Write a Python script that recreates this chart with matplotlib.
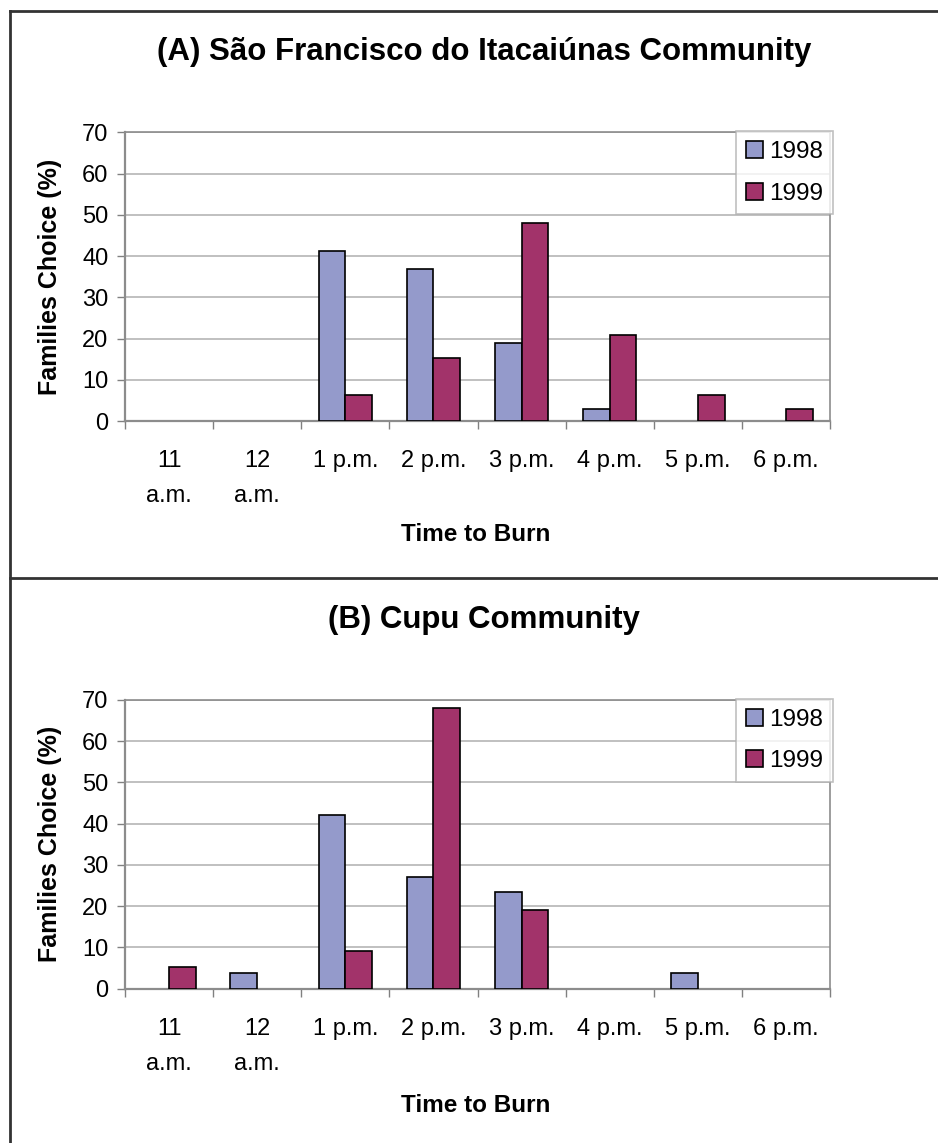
import matplotlib.pyplot as plt
from matplotlib.lines import Line2D
import numpy as np

plt.rcParams['font.family'] = ['Liberation Sans', 'DejaVu Sans']

times = ['11\na.m.', '12\na.m.', '1 p.m.', '2 p.m.', '3 p.m.', '4 p.m.', '5 p.m.', '6 p.m.']
years = ['1998', '1999']

# Families choosing each burning time (%)
sao_1998 = [0, 0, 41.2, 36.9, 19.0, 2.8, 0, 0]
sao_1999 = [0, 0, 6.3, 15.3, 47.9, 20.9, 6.2, 3.0]
cupu_1998 = [0, 3.9, 42.1, 27.0, 23.4, 0, 3.9, 0]
cupu_1999 = [5.3, 0, 9.1, 68.1, 19.1, 0, 0, 0]

titles = ['(A) São Francisco do Itacaiúnas Community', '(B) Cupu Community']
colors = ['#949ACB', '#A2336A']

W, H = 938, 1143
fig = plt.figure(figsize=(W / 100, H / 100), dpi=100)


def fx(px):
    return px / W


def fy(px):
    return 1 - px / H


def panel(rect, s98, s99, title, title_y, xlabel_y):
    ax = fig.add_axes(rect)
    x = np.arange(len(times))
    w = 0.303
    for off, vals, c, lab in [(-w / 2, s98, colors[0], years[0]), (w / 2, s99, colors[1], years[1])]:
        # empty categories get no outline
        lws = [1.2 if v > 0 else 0 for v in vals]
        ax.bar(x + off, vals, w, color=c, edgecolor='black', linewidth=lws, label=lab, zorder=3)
    ax.set_xlim(-0.5, len(times) - 0.5)
    ax.set_ylim(0, 70)
    ax.set_yticks(range(0, 71, 10))
    ax.yaxis.grid(True, color='#B5B5B5', linewidth=1.2, zorder=0)
    ax.set_xticks(x)
    ax.set_xticklabels(times, fontsize=17, linespacing=1.75, va='top')
    ax.set_xticks(np.arange(-0.5, len(times), 1), minor=True)
    ax.tick_params(axis='x', which='major', length=0, pad=21)
    ax.tick_params(axis='x', which='minor', length=6, color='#808080', width=1)
    ax.tick_params(axis='y', length=6, color='#808080', width=1, labelsize=17, pad=6)
    for sp in ax.spines.values():
        sp.set_color('#8C8C8C')
        sp.set_linewidth(1.2)
    ax.spines['bottom'].set_linewidth(1.6)
    ax.spines['left'].set_linewidth(1.6)

    fig.text(fx(484), title_y, title, fontsize=22.5, fontweight='bold', ha='center', va='center')
    fig.text(fx(476), xlabel_y, 'Time to Burn', fontsize=17.5, fontweight='bold', ha='center', va='center')
    fig.text(fx(50), rect[1] + rect[3] / 2, 'Families Choice (%)', rotation=90,
             fontsize=18, fontweight='bold', ha='center', va='center')

    handles = [ax.containers[0], ax.containers[1]]
    leg = ax.legend(handles, years, loc='upper right', bbox_to_anchor=(1.004, 1.003), fontsize=17.5,
                    frameon=True, fancybox=False, borderpad=0.4, handlelength=0.7,
                    handleheight=0.7, handletextpad=0.25, labelspacing=0.8,
                    borderaxespad=0)
    for p in leg.get_patches():
        p.set_linewidth(1.2)
    leg.get_frame().set_edgecolor('#B0B0B0')
    leg.get_frame().set_linewidth(1.2)
    leg.set_zorder(5)
    return ax


panel([fx(125), fy(421), fx(830) - fx(125), fy(132.3) - fy(421)],
      sao_1998, sao_1999, titles[0], fy(52), fy(535))
panel([fx(125), fy(988.7), fx(830) - fx(125), fy(700) - fy(988.7)],
      cupu_1998, cupu_1999, titles[1], fy(620), fy(1106))

# outer frame lines
lc = '#333333'
fig.add_artist(Line2D([fx(10), fx(10)], [0, fy(11)], color=lc, linewidth=2))
fig.add_artist(Line2D([fx(10), 1], [fy(11), fy(11)], color=lc, linewidth=2))
fig.add_artist(Line2D([fx(10), 1], [fy(578), fy(578)], color=lc, linewidth=2))

fig.savefig('out.png', dpi=100)
